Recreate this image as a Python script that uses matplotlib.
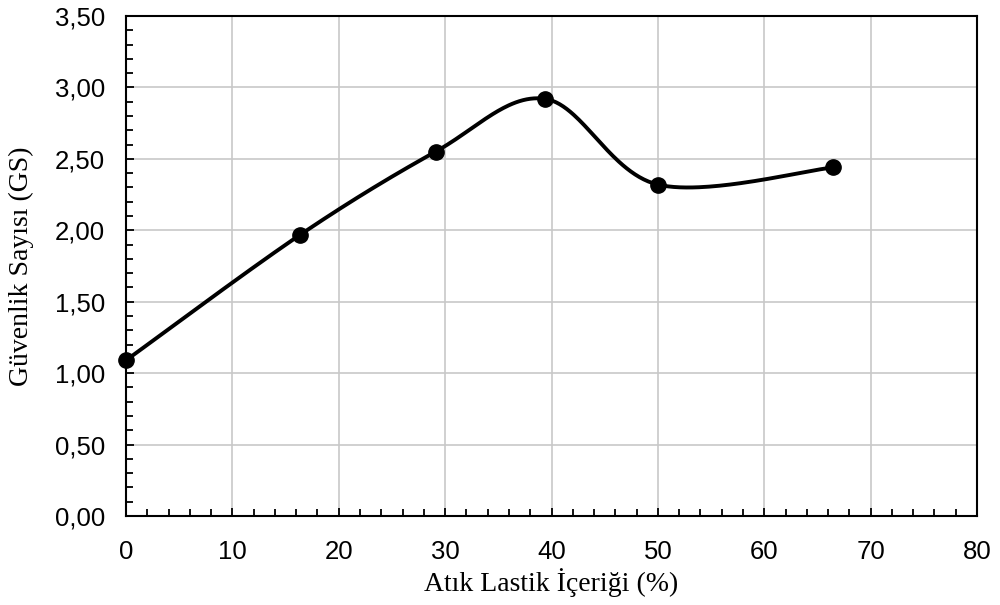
import matplotlib
matplotlib.use("Agg")
import matplotlib.pyplot as plt
from matplotlib.ticker import MultipleLocator, FuncFormatter
import numpy as np

# data
atik_lastik = [0, 16.4, 29.1, 39.4, 50.0, 66.5]
guvenlik = [1.09, 1.97, 2.55, 2.92, 2.32, 2.44]


def excel_smooth(x, y, n=60):
    # Excel style smoothed line: cubic bezier, control points from neighbours
    x = np.asarray(x, float)
    y = np.asarray(y, float)
    px = np.concatenate(([x[0]], x, [x[-1]]))
    py = np.concatenate(([y[0]], y, [y[-1]]))
    xs, ys = [], []
    t = np.linspace(0, 1, n)
    for i in range(1, len(px) - 2):
        p0x, p1x, p2x, p3x = px[i - 1], px[i], px[i + 1], px[i + 2]
        p0y, p1y, p2y, p3y = py[i - 1], py[i], py[i + 1], py[i + 2]
        c1x = p1x + (p2x - p0x) / 6
        c1y = p1y + (p2y - p0y) / 6
        c2x = p2x - (p3x - p1x) / 6
        c2y = p2y - (p3y - p1y) / 6
        bx = (1 - t)**3 * p1x + 3 * (1 - t)**2 * t * c1x + 3 * (1 - t) * t**2 * c2x + t**3 * p2x
        by = (1 - t)**3 * p1y + 3 * (1 - t)**2 * t * c1y + 3 * (1 - t) * t**2 * c2y + t**3 * p2y
        xs.extend(bx)
        ys.extend(by)
    return np.array(xs), np.array(ys)


fig = plt.figure(figsize=(10, 6.05), dpi=100)
ax = fig.add_axes([0.126, 0.147, 0.851, 0.8266])

sx, sy = excel_smooth(atik_lastik, guvenlik)
ax.plot(sx, sy, color="black", lw=2.8, zorder=3, clip_on=False)
ax.plot(atik_lastik, guvenlik, "o", color="black", ms=11, zorder=4, clip_on=False)

ax.set_xlim(0, 80)
ax.set_ylim(0, 3.5)
ax.xaxis.set_major_locator(MultipleLocator(10))
ax.xaxis.set_minor_locator(MultipleLocator(2))
ax.yaxis.set_major_locator(MultipleLocator(0.5))
ax.yaxis.set_minor_locator(MultipleLocator(0.1))
ax.yaxis.set_major_formatter(FuncFormatter(lambda v, p: f"{v:.2f}".replace(".", ",")))
ax.xaxis.set_major_formatter(FuncFormatter(lambda v, p: f"{v:.0f}"))

ax.grid(True, which="major", color="#c8c8c8", lw=1.2, zorder=0)
ax.set_axisbelow(True)
ax.tick_params(which="both", direction="in", color="black", width=1.3)
ax.tick_params(which="major", length=6, labelsize=18.5)
ax.tick_params(axis="x", which="major", pad=17)
ax.tick_params(axis="y", which="major", pad=15)
ax.tick_params(which="minor", length=5)
for lab in ax.get_xticklabels() + ax.get_yticklabels():
    lab.set_fontfamily("Liberation Sans")
for s in ax.spines.values():
    s.set_linewidth(1.5)
    s.set_color("black")

ax.set_xlabel("Atık Lastik İçeriği (%)", family="Liberation Serif", fontsize=20)
ax.set_ylabel("Güvenlik Sayısı (GS)", family="Liberation Serif", fontsize=20)
ax.xaxis.set_label_coords(0.5, -0.104)
ax.yaxis.set_label_coords(-0.108, 0.5)

fig.savefig("out.png", dpi=100)
